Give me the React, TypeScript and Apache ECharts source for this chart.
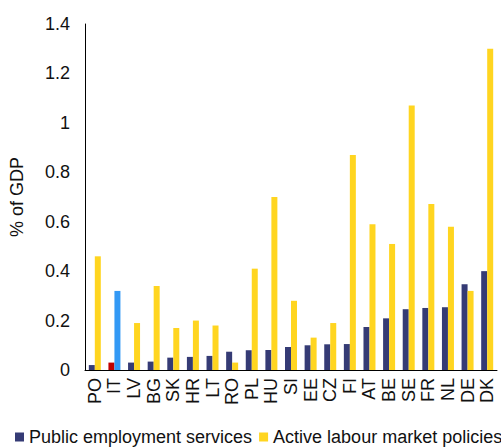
import React, { useEffect, useRef } from "react";
import * as echarts from "echarts";

const categories = ["PO", "IT", "LV", "BG", "SK", "HR", "LT", "RO", "PL", "HU", "SI", "EE", "CZ", "FI", "AT", "BE", "SE", "FR", "NL", "DE", "DK"];
const publicEmploymentServices = [0.02, 0.03, 0.03, 0.034, 0.05, 0.053, 0.057, 0.074, 0.08, 0.081, 0.093, 0.1, 0.104, 0.105, 0.174, 0.209, 0.246, 0.251, 0.254, 0.347, 0.40];
const activeLabourMarketPolicies = [0.46, 0.32, 0.19, 0.34, 0.17, 0.2, 0.18, 0.03, 0.41, 0.70, 0.28, 0.131, 0.19, 0.87, 0.59, 0.51, 1.07, 0.672, 0.58, 0.32, 1.30];
const yTicks = [0, 0.2, 0.4, 0.6, 0.8, 1, 1.2, 1.4];

const NAVY = "#353b75";
const YELLOW = "#ffd520";
const RED = "#c00000";
const BLUE = "#3399f5";
const highlight = "IT";

export default function App() {
  const ref = useRef<HTMLDivElement>(null);
  useEffect(() => {
    if (!ref.current) return;
    const chart = echarts.init(ref.current, undefined, { renderer: "svg" });
    const font = "'Liberation Sans', Arial, sans-serif";
    const FS = 18;
    chart.setOption({
      animation: false,
      textStyle: { fontFamily: font },
      grid: { left: 77, right: 4, top: 24, bottom: 77, containLabel: false },
      legend: {
        top: 428,
        left: 15,
        width: 520,
        padding: 0,
        itemWidth: 9,
        itemHeight: 9,
        itemGap: 7,
        icon: "rect",
        textStyle: { fontSize: FS, color: "#111", fontFamily: font },
        data: ["Public employment services", "Active labour market policies"],
      },
      xAxis: {
        type: "category",
        data: categories,
        axisLine: { lineStyle: { color: "#000", width: 1 } },
        axisTick: { show: false },
        axisLabel: { rotate: 90, fontSize: FS, color: "#111", margin: 8, interval: 0, fontFamily: font },
      },
      yAxis: {
        type: "value",
        min: 0,
        max: 1.4,
        interval: 0.2,
        name: "% of GDP",
        nameLocation: "middle",
        nameGap: 59,
        nameTextStyle: { fontSize: FS, color: "#111", fontFamily: font },
        axisLine: { show: true, lineStyle: { color: "#000", width: 1 } },
        axisTick: { show: false },
        splitLine: { show: false },
        axisLabel: {
          fontSize: FS,
          color: "#111",
          margin: 15,
          fontFamily: font,
          formatter: (v: number) => {
            const t = yTicks.find((x) => Math.abs(x - v) < 1e-9);
            return String(t !== undefined ? Math.round(t * 10) / 10 : v);
          },
        },
      },
      series: [
        {
          name: "Public employment services",
          type: "bar",
          barWidth: 6,
          barGap: "0%",
          itemStyle: { color: NAVY },
          data: publicEmploymentServices.map((v, i) =>
            categories[i] === highlight ? { value: v, itemStyle: { color: RED } } : v
          ),
        },
        {
          name: "Active labour market policies",
          type: "bar",
          barWidth: 6,
          barGap: "0%",
          itemStyle: { color: YELLOW },
          data: activeLabourMarketPolicies.map((v, i) =>
            categories[i] === highlight ? { value: v, itemStyle: { color: BLUE } } : v
          ),
        },
      ],
    });
    return () => chart.dispose();
  }, []);
  return <div ref={ref} style={{ width: 501, height: 447, position: "absolute", left: 0, top: 0 }} />;
}
